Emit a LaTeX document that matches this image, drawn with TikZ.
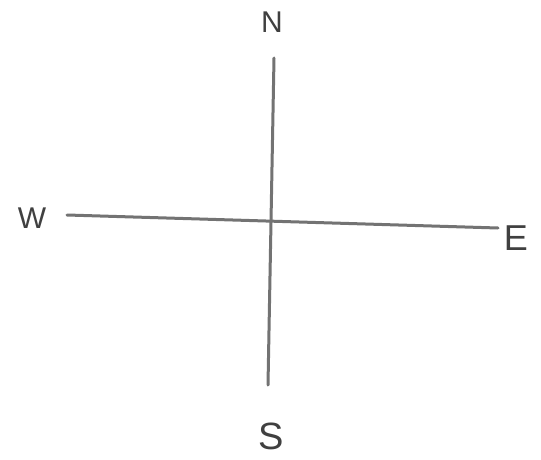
\documentclass[tikz,border=0pt]{standalone}
\usepackage{fontspec}
\setmainfont{Liberation Sans}
\begin{document}
\begin{tikzpicture}[x=1pt,y=-1pt,
  axis/.style={draw=black!55, line width=3pt, line cap=round},
  dirlabel/.style={text=black!75, font=\fontsize{30}{30}\selectfont, inner sep=0pt}]
\fill[white] (0,0) rectangle (541,460);
\useasboundingbox (0,0) rectangle (541,460);
\coordinate (ntop) at (274,58);
\coordinate (sbot) at (268,385);
\coordinate (wend) at (67,215);
\coordinate (eend) at (498,228);
\draw[axis] (ntop) -- (sbot);
\draw[axis] (wend) -- (eend);
\node[dirlabel] (N) at (272,22) {N};
\node[dirlabel, font=\fontsize{38}{38}\selectfont] (S) at (271,436) {S};
\node[dirlabel] (W) at (32,218) {W};
\node[dirlabel, font=\fontsize{36}{36}\selectfont] (E) at (516,238) {E};
\end{tikzpicture}
\end{document}
